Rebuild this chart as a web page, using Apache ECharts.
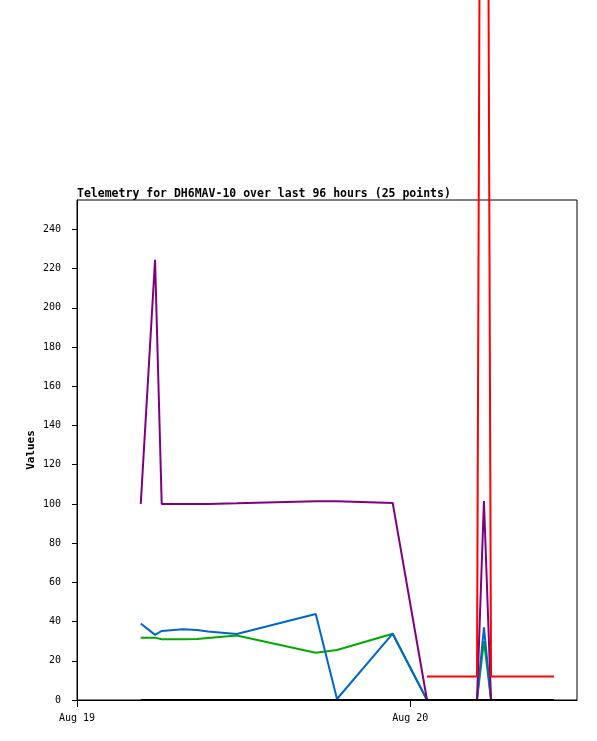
<!DOCTYPE html>
<html>
<head>
<meta charset="utf-8">
<script src="https://cdn.jsdelivr.net/npm/echarts@6/dist/echarts.min.js"></script>
<style>html,body{margin:0;padding:0;background:#fff}#c{width:597px;height:741px}</style>
</head>
<body>
<div id="c"></div>
<script>
// hours since Aug 19 00:00
var times = [4.59, 5.62, 6.10, 7.63, 8.64, 9.43, 11.50, 17.19, 18.72, 22.73, 25.20, 28.80, 29.30, 29.81, 34.34];
var purple = [100, 224.5, 100, 100, 100, 100, 100.3, 101.3, 101.3, 100.5, 0, 0, 101.5, 0, 0];
var blue = [39, 33.2, 35.2, 36.1, 35.7, 34.9, 33.7, 43.9, 0.5, 33.8, 0, 0, 37, 0, 0];
var green = [31.8, 31.8, 31, 31, 31.1, 31.6, 32.9, 24.1, 25.5, 33.8, 0, 0, 30, 0, 0];
var red = [null, null, null, null, null, null, null, null, null, null, 12, 12, 1000, 12, 12];
var black = [0, 0, 0, 0, 0, 0, 0, 0, 0, 0, 0, 0, 0, 0, 0];
var xTicks = [0, 24];
var xTickLabels = ['Aug 19', 'Aug 20'];
var yTicks = [0, 20, 40, 60, 80, 100, 120, 140, 160, 180, 200, 220, 240];

function pairs(vals) {
  return times.map(function (t, i) { return [t, vals[i]]; });
}
function mk(name, vals, color) {
  return {
    name: name, type: 'line', data: pairs(vals), symbol: 'none', clip: false,
    connectNulls: false, lineStyle: { color: color, width: 2 }, itemStyle: { color: color }
  };
}
var font = 'DejaVu Sans Mono';
var chart = echarts.init(document.getElementById('c'), null, { renderer: 'canvas' });
chart.setOption({
  animation: false,
  backgroundColor: '#fff',
  title: {
    text: 'Telemetry for DH6MAV-10 over last 96 hours (25 points)',
    left: 72, top: 183,
    textStyle: { fontFamily: font, fontSize: 11.5, fontWeight: 'bold', color: '#000' }
  },
  grid: { left: 77, top: 200, right: 20, bottom: 41, show: true, borderColor: '#000', borderWidth: 1, backgroundColor: 'transparent' },
  xAxis: {
    type: 'value', min: 0, max: 36,
    axisLine: { show: true, onZero: false, lineStyle: { color: '#000', width: 1 } },
    axisTick: { show: true, length: 7, customValues: xTicks, lineStyle: { color: '#000' } },
    axisLabel: {
      customValues: xTicks, margin: 13, fontFamily: font, fontSize: 10, color: '#000',
      formatter: function (v) { var i = xTicks.indexOf(v); return i >= 0 ? xTickLabels[i] : ''; }
    },
    splitLine: { show: false }
  },
  yAxis: {
    type: 'value', min: 0, max: 255,
    name: 'Values', nameLocation: 'middle', nameGap: 40, nameRotate: 90, nameMoveOverlap: false,
    nameTextStyle: { fontFamily: font, fontSize: 11, fontWeight: 'bold', color: '#000' },
    axisLine: { show: true, lineStyle: { color: '#000', width: 1 } },
    axisTick: { show: true, length: 5, customValues: yTicks, lineStyle: { color: '#000' } },
    axisLabel: { customValues: yTicks, margin: 16, fontFamily: font, fontSize: 10, color: '#000' },
    splitLine: { show: false }
  },
  series: [
    mk('green', green, '#00aa00'),
    mk('blue', blue, '#0066cc'),
    mk('purple', purple, '#800080'),
    mk('red', red, '#ff0000'),
    mk('black', black, '#000000')
  ]
});
</script>
</body>
</html>
